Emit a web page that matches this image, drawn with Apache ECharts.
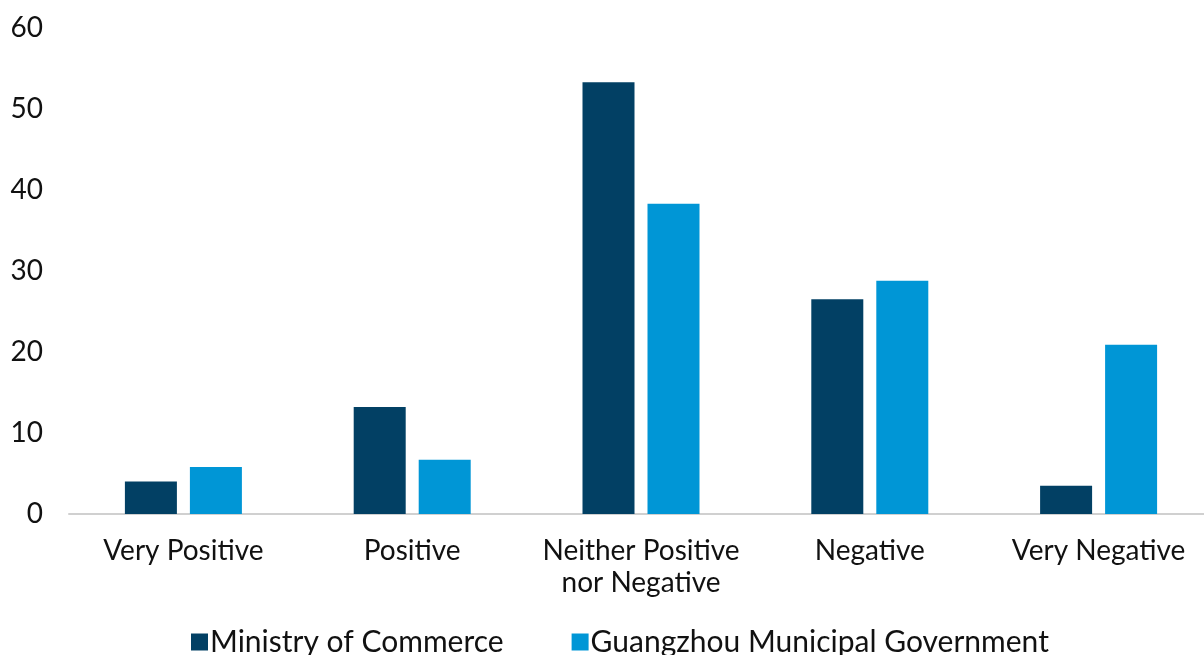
<!DOCTYPE html>
<html>
<head>
<meta charset="utf-8">
<script src="https://cdn.jsdelivr.net/npm/echarts@6/dist/echarts.min.js"></script>
<style>
  html, body { margin: 0; padding: 0; background: #fff; overflow: hidden; }
  /* a bit wider than the window: the plot runs past the right edge, as in the source picture */
  #chart { width: 1213px; height: 655px; }
</style>
</head>
<body>
<div id="chart"></div>
<script>
// categories and values
var categories = ['Very Positive', 'Positive', 'Neither Positive\nnor Negative', 'Negative', 'Very Negative'];
var ministry = [4.0, 13.2, 53.3, 26.5, 3.5];
var guangzhou = [5.8, 6.7, 38.3, 28.8, 20.9];
var seriesNames = ['Ministry of Commerce', 'Guangzhou Municipal Government'];

var FONT = 'Lato, "Noto Sans", sans-serif';

var myChart = echarts.init(document.getElementById('chart'));
myChart.setOption({
  animation: false,
  backgroundColor: '#fff',
  color: ['#024064', '#0096d6'],
  grid: { left: 69, right: 0, top: 28, bottom: 141, containLabel: false },
  legend: {
    left: 186,
    top: 622,
    itemWidth: 17,
    itemHeight: 17,
    itemGap: 68,
    icon: 'rect',
    textStyle: { fontFamily: FONT, fontSize: 30, color: '#111', padding: [0, 0, 0, -3] },
    data: seriesNames
  },
  xAxis: {
    type: 'category',
    data: categories,
    axisLine: { lineStyle: { color: '#d0d0d0', width: 2 } },
    axisTick: { show: false },
    axisLabel: {
      fontFamily: FONT, fontSize: 28, color: '#111',
      margin: 21, lineHeight: 32, interval: 0
    }
  },
  yAxis: {
    type: 'value',
    min: 0,
    max: 60,
    interval: 10,
    axisLine: { show: false },
    axisTick: { show: false },
    splitLine: { show: false },
    axisLabel: { fontFamily: FONT, fontSize: 28, color: '#111', margin: 26 }
  },
  series: [
    {
      name: seriesNames[0],
      type: 'bar',
      data: ministry,
      barWidth: 52,
      barGap: '25%'
    },
    {
      name: seriesNames[1],
      type: 'bar',
      data: guangzhou,
      barWidth: 52,
      barGap: '25%'
    }
  ]
});
</script>
</body>
</html>
